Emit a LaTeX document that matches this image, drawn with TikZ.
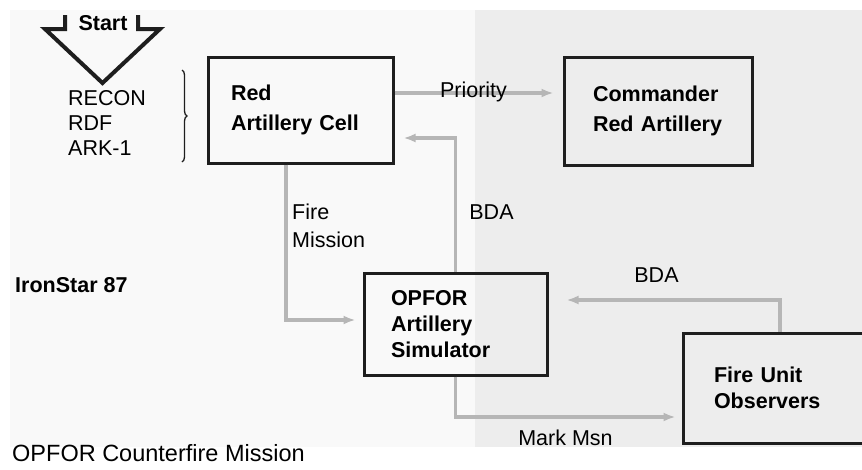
\documentclass[tikz,border=0pt]{standalone}
\usepackage{fontspec}
\setmainfont{Liberation Sans}
\usetikzlibrary{arrows.meta,calc,decorations.pathreplacing}
\definecolor{boxline}{RGB}{30,30,30}
\definecolor{connline}{RGB}{182,182,182}
\definecolor{paper}{RGB}{237,237,237}
\definecolor{paperlight}{RGB}{249,249,249}
\tikzset{
  box/.style={draw=boxline, line width=3pt, rectangle, align=left, anchor=center,
              font=\bfseries\fontsize{21.5}{30}\selectfont, inner ysep=0pt},
  conn/.style={draw=connline, line width=3.5pt, -{Latex[length=12pt,width=9pt]}},
  lbl/.style={font=\fontsize{21.5}{25}\selectfont, inner sep=0pt},
  blbl/.style={font=\bfseries\fontsize{21.5}{25}\selectfont, inner sep=0pt},
}
\begin{document}
\begin{tikzpicture}[x=1pt,y=-1pt]
\useasboundingbox (0,0) rectangle (862,469);
\clip (0,0) rectangle (862,469);
\fill[white] (0,0) rectangle (862,469);
\fill[paperlight] (10,10) rectangle (475,447);
\fill[paper] (475,10) rectangle (862,447);

% boxes
\node[box, minimum height=106pt, inner xsep=23pt, text width=139pt] (rac) at (300.5,110) {Red\\Artillery Cell};
\node[box, minimum height=108pt, inner xsep=29pt, text width=130pt] (cmd) at (658,111) {Commander\\Red Artillery};
\node[box, minimum height=102pt, inner xsep=27pt, text width=129pt,
      font=\bfseries\fontsize{21.5}{26}\selectfont] (opf) at (455.5,324) {OPFOR\\Artillery\\Simulator};
\node[box, minimum height=110pt, inner xsep=31pt, text width=125pt,
      font=\bfseries\fontsize{21.5}{26}\selectfont] (fu) at (776.5,388) {Fire Unit\\Observers};

% start arrow
\node[blbl] (start) at (103,23) {Start};
\draw[line width=4pt, boxline, miter limit=10] (65,15) -- (65,29) -- (45,29) -- (102.5,83) -- (160,29) -- (138,29) -- (138,15);

% sources + brace
\node[lbl, align=left, anchor=west] (src) at (68,123) {RECON\\RDF\\ARK-1};
\draw[boxline, line width=1.3pt, decorate, decoration={brace, amplitude=5pt}] (182,70) -- (182,162);

% connectors
\draw[conn, shorten >=9pt] ($(rac.east)+(0,-17)$) -- ($(cmd.west)+(0,-18)$);
\node[lbl, anchor=base] (pri) at (473.5,97) {Priority};

\draw[conn, shorten >=9pt] (opf.north) |- ($(rac.east)+(0,28)$);
\node[lbl] (bda1) at (491.5,212) {BDA};

\draw[conn, shorten >=7pt] ($(rac.south)+(-14.5,0)$) |- ($(opf.west)+(0,-4)$);
\node[lbl, align=left, anchor=west, font=\fontsize{21.5}{28}\selectfont] (fm) at (292,226) {Fire\\Mission};

\draw[conn, shorten >=18pt] ($(fu.north)+(3.5,0)$) |- ($(opf.east)+(0,-24)$);
\node[lbl] (bda2) at (656.5,275) {BDA};

\draw[conn, shorten >=6pt] (opf.south) |- ($(fu.west)+(0,29)$);
\node[lbl] (mm) at (565.5,438) {Mark Msn};

% titles
\node[blbl, anchor=west] (iron) at (15,285) {IronStar 87};
\node[lbl, anchor=west, font=\fontsize{23.5}{28}\selectfont] (cap) at (12,453) {OPFOR Counterfire Mission};
\end{tikzpicture}
\end{document}
